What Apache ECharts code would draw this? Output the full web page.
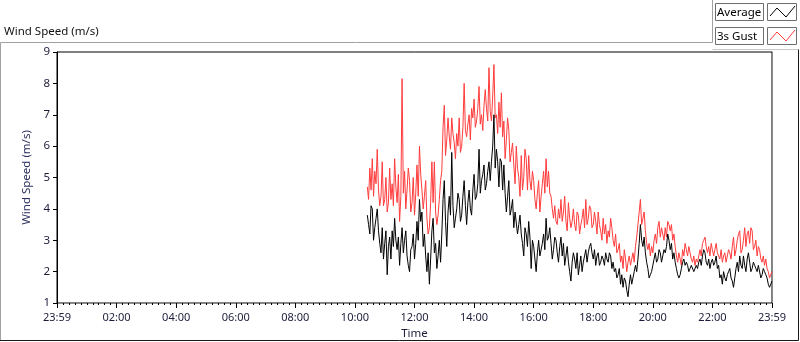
<!DOCTYPE html>
<html>
<head>
<meta charset="utf-8">
<script src="https://cdn.jsdelivr.net/npm/echarts@6.0.0/dist/echarts.min.js"></script>
<style>
    html, body { margin: 0; padding: 0; background: #fff; }
    #chart { width: 800px; height: 342px; }
</style>
</head>
<body>
<div id="chart"></div>
<script>
// samples every 2.5 minutes, minutes counted from 23:59 of the previous day
const startMinute = 625;
const stepMinutes = 2.5;

const gust = [
    4.7, 4.3, 5.3, 4.6, 5.6, 4.4, 5.2, 4.8, 5.9, 4.6, 4.1, 4.4, 5.5, 4.1, 4.3, 5.0, 3.9, 4.2, 5.3, 4.3,
    4.8, 4.1, 5.6, 4.7, 4.2, 5.1, 3.6, 4.4, 8.15, 4.5, 5.2, 4.0, 4.6, 5.3, 4.9, 3.9, 4.2, 5.0, 3.8, 4.5,
    5.4, 4.4, 6.0, 5.1, 4.6, 4.0, 4.4, 4.9, 3.7, 3.2, 3.4, 4.2, 5.5, 4.2, 5.5, 3.9, 3.5, 3.8, 4.3, 4.9,
    5.2, 6.6, 7.3, 5.7, 6.2, 6.9, 6.3, 5.9, 6.9, 6.4, 6.1, 5.6, 6.4, 6.0, 6.9, 5.8, 6.0, 6.6, 8.0, 6.5,
    6.3, 6.7, 7.0, 6.2, 7.2, 6.9, 7.5, 6.6, 6.8, 7.2, 7.9, 6.7, 7.0, 6.5, 7.3, 7.8, 7.2, 6.8, 8.5, 7.1,
    6.8, 7.6, 8.6, 6.9, 7.0, 6.4, 7.4, 6.6, 7.7, 6.3, 6.8, 5.6, 6.2, 6.9, 6.5, 5.5, 5.8, 6.1, 5.4, 4.8,
    6.0, 5.3, 5.0, 4.4, 5.7, 4.6, 5.0, 5.9, 5.6, 4.6, 5.7, 4.9, 4.6, 5.2, 4.9, 4.3, 4.0, 4.5, 4.9, 3.9,
    4.4, 4.8, 5.2, 4.5, 5.6, 4.7, 5.2, 4.5, 4.4, 4.0, 3.7, 4.1, 3.6, 3.5, 4.0, 3.7, 4.3, 3.6, 3.9, 4.4,
    3.6, 3.3, 4.2, 3.7, 3.4, 3.6, 4.0, 3.5, 3.3, 3.9, 3.8, 3.2, 3.5, 3.7, 4.0, 3.4, 4.3, 3.5, 3.7, 4.1,
    4.0, 3.4, 3.5, 3.9, 3.6, 3.2, 3.9, 3.5, 3.3, 3.0, 3.7, 3.2, 3.5, 2.9, 3.3, 3.1, 3.7, 3.4, 3.0, 2.8,
    3.2, 2.6, 2.7, 2.9, 2.3, 2.5, 2.1, 2.7, 2.4, 2.0, 2.3, 2.5, 2.2, 2.4, 2.6, 2.3, 2.8, 3.1, 3.5, 3.9,
    4.3, 3.5, 3.7, 3.9, 3.3, 2.9, 2.7, 2.9, 2.5, 2.8, 2.6, 3.0, 3.2, 2.9, 3.4, 3.6, 3.1, 3.4, 3.2, 3.0,
    3.4, 3.1, 3.6, 3.5, 3.3, 3.5, 3.0, 3.2, 2.8, 2.5, 2.3, 2.6, 2.4, 2.2, 2.7, 2.5, 2.9, 2.7, 2.5, 2.8,
    2.6, 2.4, 2.3, 2.5, 2.2, 2.4, 2.3, 2.5, 2.7, 2.5, 2.9, 3.0, 3.1, 2.8, 2.6, 2.8, 2.5, 2.9, 2.7, 2.5,
    2.7, 2.9, 2.6, 2.5, 2.4, 2.7, 2.3, 2.5, 2.6, 2.3, 2.5, 2.7, 2.6, 2.4, 2.8, 3.1, 2.5, 2.7, 3.0, 3.2,
    3.3, 2.6, 2.7, 3.0, 3.4, 2.8, 3.2, 3.3, 2.9, 3.4, 3.3, 2.7, 2.8, 3.0, 2.5, 2.8, 2.7, 2.4, 2.3, 2.5,
    2.2, 2.4, 2.1, 2.0, 1.8, 1.9, 2.0
];

const average = [
    3.8, 3.5, 3.2, 4.1, 4.0, 3.0, 3.4, 3.7, 4.0, 3.3, 2.9, 2.6, 3.4, 2.4, 2.9, 3.3, 1.9, 2.8, 3.1, 2.4,
    3.3, 2.8, 3.7, 3.0, 2.7, 3.1, 2.2, 2.9, 3.4, 2.6, 3.0, 3.3, 2.5, 2.2, 2.0, 2.7, 2.8, 3.2, 2.4, 2.9,
    3.6, 3.0, 4.3, 3.6, 3.9, 2.8, 3.2, 2.5, 2.0, 2.6, 1.6, 2.4, 3.3, 3.7, 2.6, 2.9, 2.1, 2.5, 3.0, 2.3,
    3.2, 4.3, 4.9, 3.6, 2.8, 3.9, 4.4, 3.8, 5.8, 4.1, 3.4, 3.7, 4.0, 4.5, 4.3, 3.6, 3.8, 4.4, 4.9, 4.1,
    3.5, 4.2, 4.6, 4.0, 3.8, 4.6, 5.1, 4.3, 4.4, 4.8, 5.9, 4.5, 4.9, 5.1, 5.4, 4.6, 4.8, 5.2, 5.5, 4.9,
    5.5, 6.0, 7.0, 5.3, 5.9, 5.5, 4.7, 5.6, 5.5, 4.6, 5.4, 4.5, 3.9, 4.4, 4.9, 3.8, 4.0, 4.3, 3.4, 3.9,
    3.9, 3.2, 3.5, 3.8, 3.2, 2.9, 2.5, 3.4, 3.2, 2.8, 3.6, 3.1, 2.1, 3.0, 2.8, 2.4, 2.0, 2.6, 3.0, 2.5,
    2.5, 2.9, 3.2, 2.7, 3.7, 3.0, 3.1, 3.4, 2.9, 2.4, 2.7, 3.1, 3.0, 2.6, 2.3, 2.8, 3.1, 2.5, 2.9, 2.2,
    2.5, 2.8, 2.3, 2.0, 1.7, 2.3, 2.6, 2.4, 2.1, 2.6, 1.9, 2.2, 2.5, 2.0, 2.3, 2.5, 2.7, 2.3, 2.6, 2.8,
    2.9, 2.6, 2.4, 2.7, 2.2, 2.5, 2.6, 2.2, 2.3, 2.5, 2.4, 2.2, 2.6, 2.4, 2.3, 2.6, 2.5, 2.1, 2.3, 2.0,
    2.1, 1.8, 1.9, 2.1, 1.6, 1.9, 1.5, 1.8, 1.7, 1.4, 1.2, 1.6, 1.9, 1.6, 1.8, 2.0, 2.2, 2.0, 2.4, 2.9,
    3.5, 3.0, 2.8, 3.1, 2.6, 2.3, 2.1, 1.8, 1.9, 2.0, 2.2, 2.4, 2.6, 2.3, 2.4, 2.7, 2.6, 2.3, 2.5, 2.7,
    2.6, 2.8, 3.2, 3.0, 2.7, 2.9, 2.4, 2.6, 2.3, 2.1, 1.9, 1.8, 1.9, 2.1, 2.3, 2.4, 2.2, 2.3, 2.2, 2.0,
    2.1, 2.2, 2.2, 2.0, 2.0, 2.2, 2.1, 2.3, 2.4, 2.2, 2.5, 2.7, 2.6, 2.3, 2.2, 2.4, 2.1, 2.3, 2.4, 2.2,
    2.3, 2.5, 2.1, 2.2, 1.8, 1.9, 1.6, 2.0, 1.8, 1.7, 1.9, 2.0, 2.1, 1.8, 1.7, 1.5, 1.8, 2.1, 2.3, 2.0,
    2.5, 2.2, 2.1, 2.5, 2.2, 2.0, 2.4, 2.6, 2.3, 2.0, 2.1, 2.3, 2.2, 2.1, 2.0, 2.2, 2.2, 1.8, 1.9, 2.1,
    2.0, 1.9, 1.8, 1.6, 1.5, 1.6, 1.7
];

const legendNames = ["Average", "3s Gust"];
const seriesColors = ["#000000", "#ff3c3c"];

const toPairs = (arr) => arr.map((v, i) => [startMinute + i * stepMinutes, v]);

const timeLabel = (v) => {
    if (v === 0 || v === 1440) return "23:59";
    const h = Math.round(v / 60);
    return (h < 10 ? "0" : "") + h + ":00";
};

const font = "Noto Sans";
const labelColor = "#1c1c3a";

// legend boxes drawn by hand, LabVIEW style
const legendGraphic = [];
legendNames.forEach((name, k) => {
    const top = 3 + k * 24;
    legendGraphic.push(
        { type: "rect", shape: { x: 715.5, y: top + 0.5, width: 48, height: 17 },
          style: { fill: "#fff", stroke: "#6e6e6e", lineWidth: 1 } },
        { type: "text", x: 717, y: top + 9.5, style: { text: name, font: "11.5px " + font, fill: "#000", textVerticalAlign: "middle" } },
        { type: "rect", shape: { x: 767.5, y: top + 0.5, width: 29, height: 17 },
          style: { fill: "#fff", stroke: "#6e6e6e", lineWidth: 1 } },
        { type: "polyline", shape: { points: [[770, top + 13], [777, top + 5], [786, top + 14], [795, top + 3]] },
          style: { stroke: seriesColors[k], lineWidth: 1, fill: null } }
    );
});

const chart = echarts.init(document.getElementById("chart"));
chart.setOption({
    animation: false,
    backgroundColor: "#fff",
    grid: {
        left: 57, right: 28, top: 52, bottom: 39,
        outerBoundsMode: "none",
        show: true, borderColor: "#000", borderWidth: 1, backgroundColor: "#fff"
    },
    xAxis: {
        type: "value",
        min: 0, max: 1440, interval: 120,
        name: "Time",
        nameLocation: "middle",
        nameGap: 25,
        nameTextStyle: { color: labelColor, fontFamily: font, fontSize: 11.5 },
        axisLine: { lineStyle: { color: "#8a8a8a" } },
        axisTick: { show: true, length: 5, lineStyle: { color: "#000" } },
        minorTick: { show: true, splitNumber: 10, length: 2, lineStyle: { color: "#000" } },
        axisLabel: { formatter: timeLabel, color: labelColor, fontFamily: font, fontSize: 11, margin: 9, showMinLabel: true, showMaxLabel: true },
        splitLine: { show: false }
    },
    yAxis: [
        {
            type: "value",
            min: 1, max: 9, interval: 1,
            name: "Wind Speed (m/s)",
            nameLocation: "middle",
            nameGap: 19,
            nameTextStyle: { color: "#2c2f5e", fontFamily: font, fontSize: 11.5 },
            axisLine: { show: true, lineStyle: { color: "#000" } },
            axisTick: { show: true, length: 4, lineStyle: { color: "#000" } },
            axisLabel: { color: labelColor, fontFamily: font, fontSize: 11.5, margin: 7 },
            splitLine: { show: false }
        },
        {
            type: "value",
            position: "right",
            min: 1, max: 9,
            axisLine: { show: true, lineStyle: { color: "#8a8a8a" } },
            axisTick: { show: false },
            axisLabel: { show: false },
            splitLine: { show: false }
        }
    ],
    series: [
        {
            name: legendNames[1], type: "line", data: toPairs(gust),
            showSymbol: false, lineStyle: { color: seriesColors[1], width: 1 }
        },
        {
            name: legendNames[0], type: "line", data: toPairs(average),
            showSymbol: false, lineStyle: { color: seriesColors[0], width: 1 }
        }
    ],
    graphic: [
        { type: "text", x: 4, y: 32, style: { text: "Wind Speed (m/s)", font: "11.5px " + font, fill: "#111", textVerticalAlign: "middle" } },
        // outer frame
        { type: "polyline", shape: { points: [[0.5, 341], [0.5, 42.5], [712.5, 42.5], [712.5, 0]] }, style: { stroke: "#a0a0a0", fill: null } },
        { type: "polyline", shape: { points: [[712.5, 49.5], [798.5, 49.5]] }, style: { stroke: "#c8c8c8", fill: null } },
        { type: "polyline", shape: { points: [[0, 340.5], [798.5, 340.5], [798.5, 49.5]] }, style: { stroke: "#1a1a1a", fill: null } }
    ].concat(legendGraphic)
});
</script>
</body>
</html>
